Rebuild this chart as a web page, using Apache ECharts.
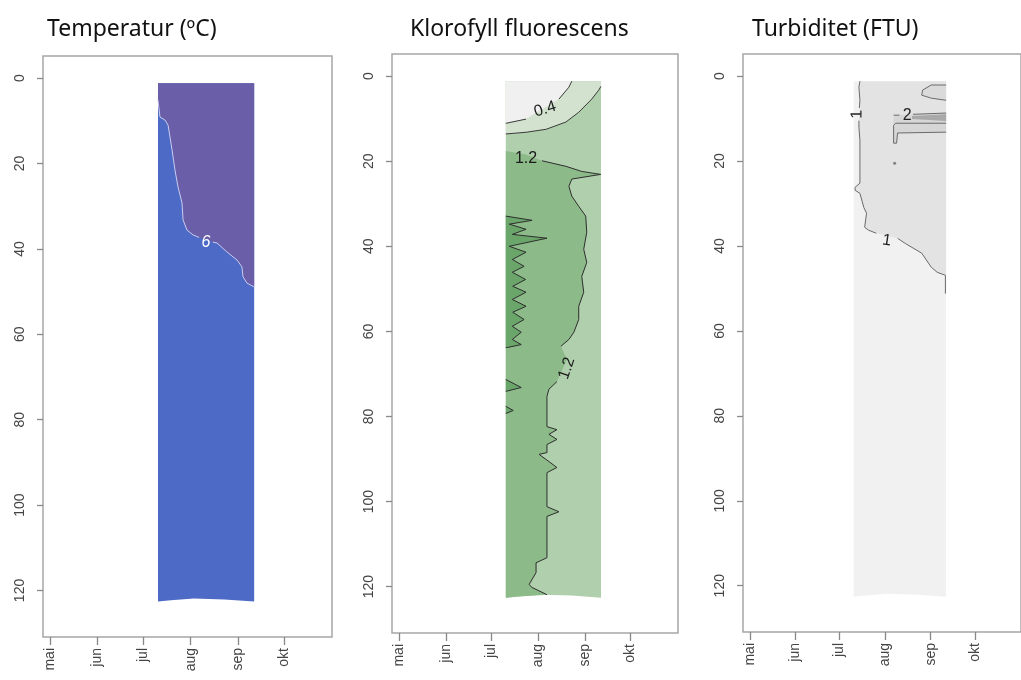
<!DOCTYPE html>
<html>
<head>
<meta charset="utf-8">
<script src="https://cdn.jsdelivr.net/npm/echarts@6/dist/echarts.min.js"></script>
<style>html,body{margin:0;padding:0;background:#fff;}#c{width:1021px;height:680px;}</style>
</head>
<body>
<div id="c"></div>
<script>
// ---------- axes ----------
const monthDays = [121, 152, 182, 213, 244, 274];           // day of year of month start
const monthLabels = ['mai', 'jun', 'jul', 'aug', 'sep', 'okt'];
const depthTicks = [0, 20, 40, 60, 80, 100, 120];
const titles = ['Temperatur (ºC)', 'Klorofyll fluorescens', 'Turbiditet (FTU)'];

// ---------- measured section (day of year, depth m) ----------
const bandLeft = 191.6, bandRight = 254.5, bandTop = 1.2;
const bandBottom = [[254.5, 122.6], [235, 122.1], [215, 121.9], [200, 122.3], [191.6, 122.6]];

// Temperatur: 6 °C isoline (split at label)
const tempIsoA = [[191.6, 5.1], [192.9, 9.1], [196.2, 9.8], [198.2, 11.0], [200.8, 16.8], [202.7, 21.5], [204.7, 25.5], [207.3, 29.2], [208.0, 33.2], [210.6, 35.6], [214.5, 36.7], [218.5, 37.3]];
const tempIsoB = [[227.5, 38.4], [230.2, 38.6], [236.7, 40.7], [243.3, 42.6], [246.5, 44.2], [247.2, 46.5], [249.8, 48.0], [254.5, 48.9]];

// Klorofyll: contour lines
const chl04A = [[191.6, 11.1], [205.0, 10.1]];
const chl04B = [[226.7, 5.4], [233.3, 2.6], [235.2, 1.2]];
const chl08 = [[191.6, 13.6], [205.0, 13.2], [218.2, 12.5], [231.3, 10.8], [239.8, 8.5], [248.4, 5.4], [253.0, 3.3], [254.5, 2.4]];
const chl12A = [[215.5, 19.9], [231.3, 21.2], [241.8, 22.4], [254.3, 23.1], [235.2, 24.2], [233.3, 25.9], [235.2, 28.2], [239.8, 30.6], [244.4, 32.9], [245.1, 36.7], [243.1, 40.7], [245.1, 43.8], [241.8, 47.1], [243.1, 50.8], [239.8, 54.1], [239.8, 57.2], [236.6, 60.2], [233.3, 61.9], [228.0, 63.5]];
const chl12B = [[225.4, 71.8], [220.1, 73.6], [218.8, 75.3], [218.8, 82.4], [225.4, 83.1], [220.1, 84.2], [225.4, 85.4], [218.8, 86.6], [218.8, 88.5], [213.6, 88.9], [218.2, 90.1], [225.4, 92.0], [218.8, 93.2], [218.8, 101.2], [226.7, 102.4], [218.8, 103.5], [218.8, 113.2], [211.6, 114.4], [211.6, 116.7], [207.0, 119.5], [209.0, 120.2], [218.8, 121.9]];
const chl16 = [[191.6, 32.9], [209.0, 33.9], [193.9, 34.8], [205.0, 36.0], [195.9, 37.2], [218.8, 38.1], [193.9, 40.0], [205.0, 41.4], [195.9, 43.1], [203.7, 44.7], [195.9, 46.1], [204.7, 47.8], [196.2, 49.4], [205.0, 50.8], [195.9, 52.5], [205.0, 54.1], [196.2, 55.5], [203.7, 57.2], [195.9, 58.8], [201.8, 60.2], [195.9, 61.9], [201.8, 63.1], [192.6, 63.8], [191.6, 63.8]];
const chl16b = [[191.6, 71.3], [201.8, 73.2], [191.6, 74.1]];
const chl16c = [[191.6, 77.6], [196.5, 78.6], [191.6, 79.3]];

// Turbiditet: contour lines
const turb1A = [[195.9, 1.2], [195.2, 2.6], [195.9, 5.7], [195.5, 7.5]];
const turb1B = [[195.2, 10.5], [195.2, 12.0], [195.9, 15.1], [195.9, 25.2], [192.6, 26.2], [192.6, 26.9], [195.9, 27.6], [198.5, 30.9], [200.4, 32.3], [199.1, 35.6], [201.8, 36.3], [207.0, 37.0]];
const turb1C = [[221.5, 38.2], [226.7, 39.4], [237.9, 41.7], [244.4, 45.0], [248.4, 46.2], [254.0, 46.9], [254.0, 51.2]];
const turbBlob = [[254.5, 2.1], [244.4, 2.1], [238.5, 3.3], [237.9, 4.5], [244.4, 5.2], [254.5, 5.7]];
const turb2 = [[218.8, 9.2], [254.5, 8.7], [254.5, 13.2], [221.5, 13.4], [220.8, 15.8], [218.8, 15.8]];
const turb3 = [[231.3, 9.4], [254.5, 9.0], [254.5, 10.6], [231.3, 10.1]];
const turb2LineA = [[218.8, 9.2], [222.8, 9.2]];
const turb2LineB = [[232.0, 9.0], [254.5, 8.7]];
const turb2LineC = [[254.5, 11.1], [220.1, 11.1], [218.8, 11.6], [218.8, 15.8], [220.8, 15.8], [221.5, 13.4], [254.5, 13.2]];
const turbDot = [[219.5, 20.5]];

// contour labels: [day, depth, text, rotation(rad)]
const tempLabels = [[223.0, 38.6, '6', 0]];
const chlLabels = [[217.5, 7.8, '0.4', 0.3], [205.0, 19.3, '1.2', 0], [232.0, 68.7, '1.2', 1.25]];
const turbLabels = [[193.9, 9.0, '1', 1.57], [214.2, 38.7, '1', -0.15], [228.0, 9.4, '2', 0]];

// ---------- helpers ----------
const rev = a => a.slice().reverse();
const band = [[bandLeft, bandTop], [bandRight, bandTop]].concat(bandBottom);

function shape(grid, pts, kind, style) {
  return {
    type: 'custom', xAxisIndex: grid, yAxisIndex: grid, silent: true, animation: false,
    data: pts,
    renderItem: function (params, api) {
      if (params.dataIndex !== 0) return null;
      return { type: kind, shape: { points: pts.map(p => api.coord(p)) }, style: style };
    }
  };
}
const fill = (g, pts, c) => shape(g, pts, 'polygon', { fill: c });
const line = (g, pts, c, w) => shape(g, pts, 'polyline', { fill: null, stroke: c, lineWidth: w || 1 });

function labels(grid, arr, color, italic) {
  return {
    type: 'custom', xAxisIndex: grid, yAxisIndex: grid, silent: true, animation: false,
    data: arr.map(a => [a[0], a[1]]),
    renderItem: function (params, api) {
      const a = arr[params.dataIndex];
      const p = api.coord([a[0], a[1]]);
      return {
        type: 'text', x: p[0], y: p[1], rotation: a[3],
        style: { text: a[2], fill: color, font: (italic ? 'italic ' : '') + '16px "Liberation Sans", Arial, sans-serif', align: 'center', verticalAlign: 'middle', textAlign: 'center', textVerticalAlign: 'middle' }
      };
    }
  };
}

// ---------- layout ----------
const grids = [
  { left: 43, top: 56, width: 289, height: 581 },
  { left: 392, top: 54, width: 286, height: 579 },
  { left: 743, top: 54, width: 289, height: 578 }
];
const titleLeft = [47, 410, 752];
const labelFont = { fontFamily: '"Liberation Sans", Arial, sans-serif', fontSize: 14, color: '#444' };

const option = {
  animation: false,
  backgroundColor: '#fff',
  title: titles.map((t, i) => ({
    text: t, left: titleLeft[i], top: 18, padding: 0,
    textStyle: { fontFamily: '"Noto Sans", sans-serif', fontSize: 23, fontWeight: 'normal', color: '#111' }
  })),
  grid: grids.map(g => Object.assign({ show: true, borderColor: '#a6a6a6', borderWidth: 1.5, backgroundColor: '#fff' }, g)),
  xAxis: grids.map((g, i) => ({
    type: 'value', gridIndex: i, min: 116.4, max: 305.4, position: 'bottom',
    axisLine: { show: false, onZero: false },
    splitLine: { show: false },
    axisTick: { show: true, customValues: monthDays, length: 8, lineStyle: { color: '#888', width: 1.3 } },
    axisLabel: Object.assign({ customValues: monthDays, rotate: 90, margin: 11,
      formatter: v => monthLabels[monthDays.indexOf(v)] || '' }, labelFont)
  })),
  yAxis: grids.map((g, i) => ({
    type: 'value', gridIndex: i, inverse: true, min: -5.2, max: 130.9, position: 'left',
    axisLine: { show: false, onZero: false },
    splitLine: { show: false },
    axisTick: { show: true, customValues: depthTicks, length: 6, lineStyle: { color: '#888', width: 1.3 } },
    axisLabel: Object.assign({ customValues: depthTicks, rotate: 90, margin: 16 }, labelFont)
  })),
  series: [
    // Temperatur
    fill(0, band, '#4d6bc6'),
    fill(0, [[bandLeft, bandTop], [bandRight, bandTop]].concat(rev(tempIsoB), rev(tempIsoA)), '#6a5ea9'),
    line(0, tempIsoA, '#c9cdf0', 1),
    line(0, tempIsoB, '#c9cdf0', 1),
    labels(0, tempLabels, '#ffffff', true),

    // Klorofyll fluorescens
    fill(1, band, '#b0cfac'),
    fill(1, [[bandLeft, bandTop], [bandRight, bandTop]].concat(rev(chl08)), '#d2e2cf'),
    fill(1, [[bandLeft, bandTop]].concat(rev(chl04B), rev(chl04A)), '#f0f0f0'),
    fill(1, [[bandLeft, 17.6], [205.0, 18.4]].concat(chl12A, [[232.0, 66.6]], chl12B, [[200, 122.3], [bandLeft, 122.6]]), '#8dba89'),
    fill(1, chl16, '#6aa56a'),
    fill(1, chl16b, '#6aa56a'),
    fill(1, chl16c, '#6aa56a'),
    line(1, chl04A, '#3a3a3a', 1),
    line(1, chl04B, '#3a3a3a', 1),
    line(1, chl08, '#3a3a3a', 1),
    line(1, chl12A, '#2e2e2e', 1),
    line(1, chl12B, '#2e2e2e', 1),
    line(1, chl16, '#2e2e2e', 1),
    line(1, chl16b, '#2e2e2e', 1),
    line(1, chl16c, '#2e2e2e', 1),
    labels(1, chlLabels, '#1a1a1a', false),

    // Turbiditet
    fill(2, band, '#f1f1f1'),
    fill(2, [[turb1A[0][0], bandTop], [bandRight, bandTop], [bandRight, 51.2]].concat(rev(turb1C), rev(turb1B), rev(turb1A)), '#e3e3e3'),
    fill(2, turbBlob, '#dadada'),
    fill(2, turb2, '#d6d6d6'),
    fill(2, turb3, '#a9a9a9'),
    line(2, turb1A, '#6a6a6a', 1),
    line(2, turb1B, '#6a6a6a', 1),
    line(2, turb1C, '#6a6a6a', 1),
    line(2, turbBlob, '#6a6a6a', 1),
    line(2, turb2LineA, '#6a6a6a', 1),
    line(2, turb2LineB, '#6a6a6a', 1),
    line(2, turb2LineC, '#6a6a6a', 1),
    {
      type: 'scatter', xAxisIndex: 2, yAxisIndex: 2, silent: true, data: turbDot,
      symbol: 'circle', symbolSize: 3, itemStyle: { color: '#666' }
    },
    labels(2, turbLabels, '#222', false)
  ]
};

const chart = echarts.init(document.getElementById('c'), null, { renderer: 'canvas' });
chart.setOption(option);
</script>
</body>
</html>
